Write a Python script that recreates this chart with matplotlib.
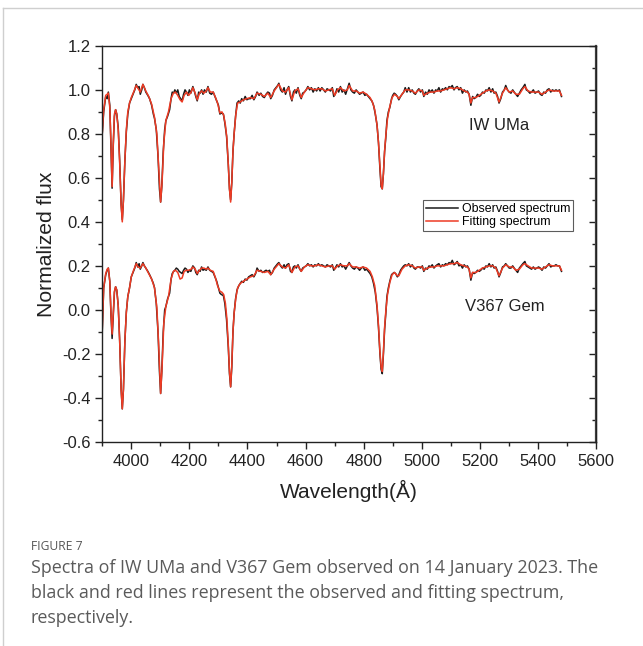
import matplotlib
matplotlib.use("Agg")
import matplotlib.pyplot as plt
from matplotlib.lines import Line2D
from matplotlib.ticker import MultipleLocator

plt.rcParams['font.family'] = ['Liberation Sans', 'DejaVu Sans']
plt.rcParams['axes.unicode_minus'] = False

# observed spectra (wavelength in Angstrom, normalized flux)
wave_obs = [3900, 3905, 3912, 3917, 3921, 3926, 3930, 3934, 3938, 3942,
            3946, 3950, 3955, 3960, 3965, 3969, 3973, 3978, 3983, 3988,
            3994, 4000, 4006, 4012, 4017, 4022, 4027, 4031, 4036, 4040,
            4045, 4050, 4057, 4063, 4070, 4076, 4080, 4086, 4092, 4097,
            4101, 4105, 4110, 4115, 4119, 4125, 4132, 4137, 4141, 4146,
            4150, 4155, 4160, 4165, 4170, 4175, 4180, 4185, 4190, 4195,
            4200, 4205, 4212, 4218, 4222, 4227, 4232, 4237, 4242, 4247,
            4252, 4258, 4264, 4270, 4276, 4282, 4288, 4294, 4300, 4305,
            4310, 4317, 4322, 4328, 4334, 4338, 4342, 4346, 4350, 4354,
            4359, 4364, 4370, 4375, 4380, 4386, 4392, 4398, 4404, 4410,
            4416, 4422, 4428, 4433, 4440, 4446, 4452, 4458, 4464, 4470,
            4476, 4480, 4486, 4492, 4498, 4504, 4508, 4514, 4520, 4526,
            4531, 4536, 4542, 4548, 4553, 4558, 4563, 4568, 4574, 4580,
            4585, 4590, 4596, 4602, 4608, 4614, 4620, 4626, 4632, 4638,
            4644, 4650, 4656, 4662, 4668, 4674, 4680, 4686, 4692, 4697,
            4702, 4708, 4714, 4720, 4726, 4732, 4738, 4744, 4750, 4756,
            4762, 4768, 4774, 4780, 4786, 4792, 4798, 4804, 4810, 4816,
            4822, 4828, 4834, 4840, 4846, 4851, 4856, 4860, 4864, 4868,
            4872, 4876, 4880, 4885, 4890, 4896, 4900, 4905, 4910, 4916,
            4921, 4927, 4932, 4938, 4943, 4949, 4955, 4961, 4967, 4973,
            4978, 4984, 4990, 4996, 5002, 5007, 5013, 5019, 5025, 5030,
            5036, 5042, 5048, 5053, 5059, 5065, 5071, 5076, 5082, 5088,
            5094, 5099, 5105, 5111, 5116, 5122, 5128, 5134, 5140, 5146,
            5152, 5157, 5163, 5169, 5175, 5180, 5186, 5192, 5198, 5203,
            5209, 5215, 5221, 5226, 5232, 5238, 5244, 5249, 5255, 5261,
            5266, 5272, 5278, 5284, 5289, 5295, 5301, 5307, 5313, 5318,
            5324, 5330, 5336, 5342, 5348, 5355, 5360, 5366, 5372, 5378,
            5384, 5390, 5396, 5402, 5408, 5414, 5420, 5426, 5432, 5438,
            5444, 5450, 5456, 5462, 5468, 5474, 5481]

iw_obs = [0.80, 0.90, 0.97, 0.96, 0.99, 0.93, 0.75, 0.553, 0.75, 0.88,
          0.91, 0.89, 0.83, 0.68, 0.48, 0.41, 0.50, 0.68, 0.81, 0.89,
          0.94, 0.96, 0.98, 1.00, 1.025, 1.01, 1.015, 0.98, 1.00, 1.025,
          1.01, 0.99, 0.975, 0.96, 0.93, 0.89, 0.87, 0.82, 0.70, 0.55,
          0.49, 0.56, 0.72, 0.82, 0.86, 0.88, 0.91, 0.96, 0.99, 0.985,
          1.00, 0.985, 1.00, 0.97, 0.96, 0.95, 0.98, 1.00, 0.99, 0.975,
          1.00, 0.985, 1.015, 0.99, 0.97, 0.95, 0.99, 0.985, 1.00, 0.98,
          1.00, 0.99, 1.015, 0.985, 0.98, 0.99, 0.97, 0.95, 0.93, 0.89,
          0.895, 0.89, 0.85, 0.79, 0.66, 0.55, 0.50, 0.58, 0.72, 0.80,
          0.88, 0.94, 0.95, 0.94, 0.96, 0.95, 0.97, 0.955, 0.96, 0.96,
          0.975, 0.955, 0.97, 0.99, 0.975, 0.985, 0.97, 0.965, 0.98, 0.99,
          0.985, 0.96, 0.975, 1.00, 1.01, 1.02, 1.03, 1.00, 0.99, 1.01,
          0.98, 1.00, 1.015, 0.97, 0.95, 0.99, 1.00, 0.985, 1.01, 0.975,
          0.96, 0.985, 0.99, 1.00, 1.015, 1.00, 1.01, 0.99, 1.005, 0.995,
          1.01, 0.995, 1.01, 1.00, 0.99, 1.005, 1.00, 0.995, 1.01, 0.97,
          0.98, 1.005, 0.99, 1.015, 0.99, 1.00, 0.98, 1.005, 1.03, 1.00,
          0.99, 0.985, 1.00, 0.99, 0.98, 0.985, 0.99, 0.975, 0.98, 0.97,
          0.96, 0.95, 0.93, 0.89, 0.84, 0.76, 0.64, 0.56, 0.55, 0.62,
          0.72, 0.78, 0.86, 0.90, 0.92, 0.96, 0.975, 0.985, 0.98, 0.97,
          0.955, 0.97, 0.98, 0.99, 1.01, 0.99, 1.01, 0.99, 1.00, 0.985,
          0.98, 0.995, 1.005, 0.99, 1.00, 0.97, 0.99, 0.98, 1.00, 0.99,
          1.00, 0.985, 1.00, 0.995, 1.01, 0.99, 1.005, 1.00, 1.01, 1.00,
          1.015, 1.01, 1.02, 1.00, 1.01, 1.015, 1.00, 1.01, 0.985, 1.00,
          0.99, 0.995, 0.98, 0.93, 0.97, 0.96, 0.965, 0.98, 0.97, 0.975,
          0.99, 0.985, 1.00, 0.995, 1.01, 0.99, 1.005, 0.985, 0.99, 0.97,
          0.94, 0.96, 0.99, 1.00, 1.02, 1.00, 0.99, 0.985, 1.00, 0.99,
          0.98, 0.97, 0.985, 1.00, 1.01, 1.025, 1.00, 0.995, 0.985, 0.99,
          1.00, 0.985, 0.99, 0.995, 0.98, 0.975, 0.99, 0.985, 1.00, 1.005,
          0.99, 1.00, 0.995, 1.00, 0.995, 1.00, 0.97]

gem_obs = [-0.10, 0.10, 0.16, 0.18, 0.19, 0.13, -0.02, -0.13, -0.02, 0.08,
           0.105, 0.09, 0.02, -0.14, -0.36, -0.45, -0.36, -0.14, -0.01, 0.06,
           0.10, 0.15, 0.17, 0.19, 0.215, 0.195, 0.21, 0.185, 0.20, 0.215,
           0.20, 0.19, 0.175, 0.16, 0.14, 0.12, 0.10, 0.03, -0.10, -0.28,
           -0.38, -0.28, -0.10, 0.00, 0.015, 0.05, 0.076, 0.14, 0.165, 0.175,
           0.18, 0.19, 0.185, 0.175, 0.17, 0.165, 0.18, 0.19, 0.185, 0.17,
           0.18, 0.175, 0.20, 0.19, 0.17, 0.16, 0.18, 0.175, 0.195, 0.18,
           0.185, 0.18, 0.195, 0.18, 0.175, 0.17, 0.15, 0.13, 0.10, 0.076,
           0.07, 0.065, 0.03, -0.045, -0.17, -0.29, -0.35, -0.26, -0.10, -0.015,
           0.05, 0.09, 0.11, 0.12, 0.13, 0.125, 0.14, 0.135, 0.15, 0.155,
           0.16, 0.15, 0.165, 0.19, 0.175, 0.18, 0.17, 0.175, 0.18, 0.175,
           0.18, 0.16, 0.17, 0.19, 0.20, 0.21, 0.215, 0.20, 0.19, 0.205,
           0.19, 0.205, 0.21, 0.175, 0.17, 0.195, 0.20, 0.19, 0.205, 0.185,
           0.175, 0.19, 0.195, 0.20, 0.21, 0.20, 0.205, 0.195, 0.205, 0.20,
           0.21, 0.20, 0.205, 0.20, 0.195, 0.205, 0.20, 0.195, 0.205, 0.18,
           0.19, 0.205, 0.195, 0.21, 0.195, 0.20, 0.185, 0.20, 0.215, 0.20,
           0.19, 0.185, 0.195, 0.19, 0.18, 0.19, 0.195, 0.18, 0.185, 0.175,
           0.165, 0.15, 0.12, 0.08, 0.01, -0.08, -0.20, -0.27, -0.29, -0.20,
           -0.09, -0.02, 0.06, 0.10, 0.13, 0.16, 0.165, 0.17, 0.165, 0.15,
           0.16, 0.18, 0.19, 0.20, 0.205, 0.20, 0.21, 0.195, 0.205, 0.19,
           0.185, 0.195, 0.195, 0.19, 0.20, 0.175, 0.19, 0.185, 0.20, 0.195,
           0.205, 0.19, 0.20, 0.205, 0.21, 0.195, 0.205, 0.20, 0.21, 0.205,
           0.215, 0.21, 0.225, 0.205, 0.21, 0.22, 0.20, 0.205, 0.19, 0.205,
           0.195, 0.20, 0.185, 0.135, 0.17, 0.165, 0.17, 0.18, 0.175, 0.18,
           0.19, 0.185, 0.20, 0.195, 0.21, 0.195, 0.205, 0.19, 0.195, 0.175,
           0.15, 0.17, 0.195, 0.20, 0.21, 0.20, 0.19, 0.19, 0.20, 0.19,
           0.18, 0.17, 0.19, 0.20, 0.21, 0.22, 0.20, 0.195, 0.19, 0.185,
           0.195, 0.185, 0.19, 0.195, 0.19, 0.18, 0.195, 0.19, 0.20, 0.21,
           0.195, 0.20, 0.20, 0.205, 0.20, 0.20, 0.175]

# fitted (model) spectra
wave_fit = [3900, 3905, 3912, 3917, 3921, 3926, 3930, 3934, 3938, 3942,
            3946, 3950, 3955, 3960, 3965, 3969, 3973, 3978, 3983, 3988,
            3994, 4000, 4008, 4017, 4024, 4031, 4040, 4050, 4060, 4070,
            4080, 4088, 4094, 4101, 4106, 4112, 4119, 4128, 4137, 4145,
            4152, 4160, 4168, 4175, 4182, 4190, 4198, 4206, 4212, 4220,
            4227, 4235, 4242, 4250, 4258, 4264, 4272, 4282, 4290, 4297,
            4305, 4312, 4318, 4324, 4329, 4334, 4338, 4342, 4346, 4350,
            4354, 4360, 4366, 4375, 4386, 4398, 4410, 4422, 4433, 4446,
            4458, 4470, 4480, 4492, 4508, 4520, 4531, 4542, 4553, 4563,
            4574, 4585, 4596, 4608, 4620, 4632, 4644, 4656, 4668, 4680,
            4692, 4700, 4710, 4720, 4732, 4744, 4750, 4762, 4774, 4786,
            4798, 4810, 4822, 4830, 4838, 4846, 4851, 4856, 4860, 4864,
            4868, 4872, 4876, 4882, 4890, 4898, 4906, 4916, 4921, 4932,
            4943, 4955, 4967, 4978, 4990, 5002, 5007, 5019, 5030, 5042,
            5053, 5065, 5076, 5088, 5099, 5111, 5122, 5134, 5146, 5157,
            5163, 5169, 5175, 5186, 5198, 5209, 5221, 5232, 5244, 5255,
            5266, 5278, 5289, 5301, 5313, 5324, 5336, 5348, 5355, 5366,
            5378, 5390, 5402, 5414, 5426, 5438, 5450, 5462, 5474, 5481]

iw_fit = [0.80, 0.91, 0.975, 0.98, 0.985, 0.92, 0.76, 0.56, 0.76, 0.89,
          0.91, 0.89, 0.82, 0.67, 0.48, 0.40, 0.50, 0.68, 0.82, 0.90,
          0.94, 0.965, 0.99, 1.02, 1.005, 0.99, 1.025, 0.995, 0.97, 0.935,
          0.875, 0.80, 0.66, 0.49, 0.58, 0.76, 0.86, 0.90, 0.96, 0.985,
          0.99, 0.975, 0.955, 0.945, 0.975, 0.99, 0.975, 0.99, 1.01, 0.985,
          0.955, 0.985, 0.995, 0.985, 0.995, 1.01, 0.99, 0.99, 0.965, 0.94,
          0.895, 0.90, 0.885, 0.84, 0.78, 0.66, 0.55, 0.49, 0.58, 0.72,
          0.80, 0.89, 0.94, 0.945, 0.955, 0.96, 0.965, 0.96, 0.985, 0.98,
          0.97, 0.985, 0.965, 0.995, 1.025, 0.995, 0.99, 1.01, 0.955, 0.995,
          1.005, 0.965, 0.99, 1.01, 1.005, 1.00, 1.005, 1.005, 0.995, 1.00,
          1.005, 0.975, 1.00, 1.01, 0.995, 1.00, 1.02, 0.995, 0.995, 0.985,
          0.99, 0.98, 0.965, 0.945, 0.91, 0.84, 0.76, 0.65, 0.57, 0.55,
          0.62, 0.72, 0.79, 0.87, 0.925, 0.965, 0.98, 0.97, 0.96, 0.98,
          1.00, 1.00, 0.995, 0.985, 1.00, 0.995, 0.975, 0.985, 0.99, 0.99,
          0.995, 0.995, 1.00, 1.005, 1.01, 1.005, 1.01, 1.005, 0.995, 0.99,
          0.98, 0.94, 0.965, 0.965, 0.975, 0.985, 0.995, 1.00, 0.995, 0.985,
          0.945, 0.985, 1.01, 0.99, 0.995, 0.98, 0.98, 1.005, 1.015, 0.995,
          0.99, 0.99, 0.99, 0.98, 0.99, 1.00, 0.995, 0.995, 0.995, 0.975]

gem_fit = [-0.09, 0.10, 0.165, 0.185, 0.19, 0.13, -0.01, -0.11, -0.01, 0.085,
           0.105, 0.09, 0.02, -0.14, -0.36, -0.45, -0.36, -0.14, -0.01, 0.06,
           0.10, 0.15, 0.18, 0.21, 0.195, 0.19, 0.21, 0.19, 0.165, 0.14,
           0.10, 0.01, -0.15, -0.38, -0.26, -0.06, 0.015, 0.06, 0.14, 0.175,
           0.18, 0.17, 0.14, 0.145, 0.175, 0.18, 0.18, 0.185, 0.195, 0.185,
           0.165, 0.18, 0.19, 0.19, 0.185, 0.19, 0.18, 0.175, 0.145, 0.11,
           0.085, 0.08, 0.07, 0.03, -0.04, -0.16, -0.28, -0.35, -0.25, -0.10,
           -0.015, 0.055, 0.10, 0.12, 0.13, 0.14, 0.15, 0.155, 0.18, 0.175,
           0.17, 0.175, 0.16, 0.185, 0.21, 0.195, 0.19, 0.205, 0.17, 0.195,
           0.20, 0.175, 0.195, 0.205, 0.20, 0.20, 0.205, 0.20, 0.195, 0.20,
           0.20, 0.185, 0.20, 0.205, 0.20, 0.20, 0.21, 0.195, 0.195, 0.19,
           0.195, 0.19, 0.175, 0.15, 0.11, 0.02, -0.07, -0.19, -0.26, -0.28,
           -0.19, -0.08, -0.01, 0.07, 0.125, 0.16, 0.17, 0.155, 0.155, 0.185,
           0.20, 0.205, 0.20, 0.19, 0.195, 0.195, 0.18, 0.19, 0.195, 0.195,
           0.20, 0.20, 0.20, 0.205, 0.21, 0.21, 0.215, 0.205, 0.20, 0.195,
           0.185, 0.145, 0.17, 0.17, 0.18, 0.19, 0.195, 0.20, 0.20, 0.19,
           0.155, 0.19, 0.205, 0.195, 0.195, 0.18, 0.185, 0.205, 0.21, 0.20,
           0.19, 0.19, 0.19, 0.185, 0.195, 0.205, 0.20, 0.20, 0.20, 0.18]

fig = plt.figure(figsize=(6.43, 6.46), dpi=100)
ax = fig.add_axes([0.159, 0.316, 0.768, 0.613])

ax.plot(wave_obs, iw_obs, color='#1a1a1a', lw=1.1, label='Observed spectrum')
ax.plot(wave_fit, iw_fit, color='#ee3b24', lw=1.1, label='Fitting spectrum')
ax.plot(wave_obs, gem_obs, color='#1a1a1a', lw=1.1)
ax.plot(wave_fit, gem_fit, color='#ee3b24', lw=1.1)

ax.set_xlim(3900, 5600)
ax.set_ylim(-0.6, 1.2)
ax.xaxis.set_major_locator(MultipleLocator(200))
ax.xaxis.set_minor_locator(MultipleLocator(100))
ax.yaxis.set_major_locator(MultipleLocator(0.2))
ax.yaxis.set_minor_locator(MultipleLocator(0.1))
ax.yaxis.set_major_formatter(plt.FormatStrFormatter('%.1f'))

for s in ax.spines.values():
    s.set_color('#222222')
    s.set_linewidth(1.0)
ax.tick_params(which='both', direction='out', colors='#222222', labelsize=12,
               top=False, right=False)
ax.tick_params(which='major', length=5, width=1.0)
ax.tick_params(which='minor', length=3, width=1.0)

# inward mirror ticks on the right side
ax2 = ax.secondary_yaxis('right')
ax2.yaxis.set_major_locator(MultipleLocator(0.2))
ax2.yaxis.set_minor_locator(MultipleLocator(0.1))
ax2.tick_params(which='both', direction='in', labelright=False, colors='#222222')
ax2.tick_params(which='major', length=5, width=1.0)
ax2.tick_params(which='minor', length=3, width=1.0)
ax2.spines['right'].set_color('#444444')
ax2.spines['right'].set_linewidth(1.6)

ax.set_xlabel('Wavelength(Å)', fontsize=15, color='#222222', labelpad=8)
ax.set_ylabel('Normalized flux', fontsize=15.2, color='#222222', labelpad=4)

ax.text(5265, 0.84, 'IW UMa', fontsize=12, color='#222222', ha='center', va='center')
ax.text(5286, 0.015, 'V367 Gem', fontsize=12, color='#222222', ha='center', va='center')

leg = ax.legend(loc='upper left', bbox_to_anchor=(0.649, 0.611), fontsize=8.9,
                frameon=True, fancybox=False, borderaxespad=0, borderpad=0.25,
                handlelength=2.6, handletextpad=0.3, labelspacing=0.1)
leg.get_frame().set_edgecolor('#333333')
leg.get_frame().set_linewidth(0.8)

# page frame and caption
fig.add_artist(Line2D([0.005, 0.005], [0.0, 0.9876], transform=fig.transFigure,
                      color='#cfcfcf', lw=1))
fig.add_artist(Line2D([0.005, 1.0], [0.9876, 0.9876], transform=fig.transFigure,
                      color='#cfcfcf', lw=1))

cap_font = ['Open Sans', 'DejaVu Sans']
fig.text(31 / 643, 1 - 550 / 646, 'FIGURE 7', fontsize=8.7, color='#555555',
         family=cap_font, va='baseline')
cap_lines = ['Spectra of IW UMa and V367 Gem observed on 14 January 2023. The',
             'black and red lines represent the observed and fitting spectrum,',
             'respectively.']
for i, line in enumerate(cap_lines):
    fig.text(31 / 643, 1 - (573 + 24.8 * i) / 646, line, fontsize=12.9,
             color='#5a5a5a', family=cap_font, va='baseline')

fig.savefig('out.png', dpi=100)
